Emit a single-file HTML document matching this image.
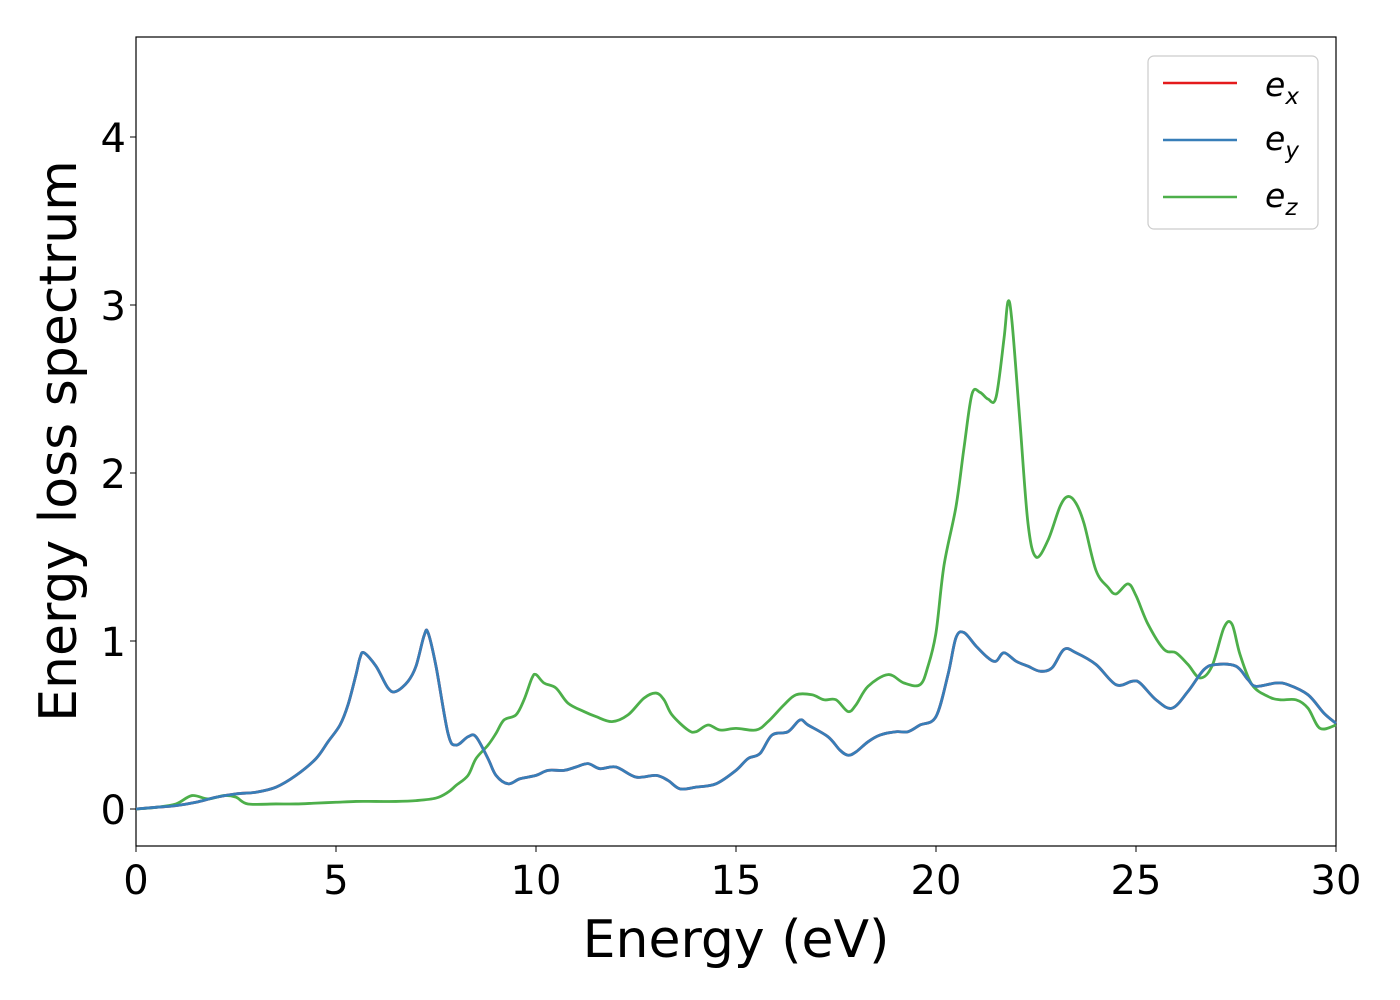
<!DOCTYPE html>
<html><head><meta charset="utf-8"><style>
body{margin:0;background:#fff;}
svg{display:block;font-family:"DejaVu Sans","Liberation Sans",sans-serif;}
</style></head><body>
<svg id="chart" width="1400" height="1000">
<rect x="136" y="37" width="1200" height="809" fill="#fff" stroke="#000" stroke-width="1.2"/>
<g id="ticks"></g>
<g id="series"></g>
<text x="736" y="957" font-size="52" text-anchor="middle">Energy (eV)</text>
<text transform="translate(76,441) rotate(-90)" font-size="52" text-anchor="middle">Energy loss spectrum</text>
<g>
<rect x="1148" y="56" width="170" height="173" rx="6" fill="#fff" stroke="#ccc" stroke-width="1.2"/>
<g><line x1="1163" y1="83" x2="1237" y2="83" stroke="#e41a1c" stroke-width="2.5"/><text x="1265" y="96" font-size="33" font-style="italic">e<tspan font-size="23" dy="8">x</tspan></text></g>
<g><line x1="1163" y1="140" x2="1237" y2="140" stroke="#377eb8" stroke-width="2.5"/><text x="1265" y="150" font-size="33" font-style="italic">e<tspan font-size="23" dy="8">y</tspan></text></g>
<g><line x1="1163" y1="197" x2="1237" y2="197" stroke="#4daf4a" stroke-width="2.5"/><text x="1265" y="207" font-size="33" font-style="italic">e<tspan font-size="23" dy="8">z</tspan></text></g>
</g>
</svg>
<script>
const xTicks=[0,5,10,15,20,25,30];
const yTicks=[0,1,2,3,4];
const inplaneE=[0,0.5,1,1.5,2,2.5,3,3.5,4,4.5,4.8,5.1,5.3,5.5,5.6,5.7,6,6.3,6.5,6.8,7,7.2,7.3,7.5,7.8,8,8.3,8.5,8.8,9,9.3,9.6,10,10.3,10.7,11,11.3,11.6,12,12.5,13,13.3,13.6,14,14.5,15,15.3,15.6,15.9,16.3,16.6,16.8,17.3,17.6,17.8,18,18.3,18.6,19,19.3,19.6,20,20.3,20.5,20.7,21,21.3,21.5,21.7,22,22.3,22.6,22.9,23.2,23.5,24,24.5,24.9,25.1,25.5,25.9,26.3,26.7,27,27.5,27.8,28,28.5,28.8,29.3,29.7,30];
const exVals=[0,0.01,0.02,0.04,0.07,0.09,0.1,0.13,0.2,0.3,0.4,0.5,0.62,0.8,0.9,0.93,0.85,0.72,0.7,0.76,0.85,1.03,1.05,0.85,0.45,0.38,0.43,0.43,0.3,0.2,0.15,0.18,0.2,0.23,0.23,0.25,0.27,0.24,0.25,0.19,0.2,0.17,0.12,0.13,0.15,0.23,0.3,0.33,0.44,0.46,0.53,0.5,0.43,0.35,0.32,0.34,0.4,0.44,0.46,0.46,0.5,0.55,0.8,1.02,1.05,0.97,0.9,0.88,0.93,0.88,0.85,0.82,0.84,0.95,0.93,0.86,0.74,0.76,0.75,0.65,0.6,0.7,0.83,0.86,0.85,0.77,0.73,0.75,0.74,0.68,0.57,0.51];
const eyVals=exVals.slice();
const ezE=[0,0.5,1,1.4,1.8,2.2,2.5,2.8,3.5,4,4.5,5,5.5,6,6.5,7,7.5,7.8,8,8.3,8.5,8.8,9,9.2,9.5,9.7,9.9,10,10.2,10.5,10.8,11.2,11.5,11.9,12.3,12.7,13,13.2,13.4,13.8,14,14.3,14.6,15,15.5,15.8,16.2,16.5,16.9,17.2,17.5,17.8,18,18.3,18.8,19.2,19.6,19.8,20,20.2,20.5,20.7,20.9,21.1,21.3,21.5,21.7,21.8,21.9,22.1,22.3,22.5,22.8,23.1,23.3,23.5,23.7,24,24.3,24.5,24.8,25,25.3,25.7,26,26.3,26.6,26.9,27.2,27.4,27.6,27.9,28.3,28.6,29,29.3,29.6,30];
const ezVals=[0,0.01,0.03,0.08,0.06,0.08,0.07,0.03,0.03,0.03,0.035,0.04,0.045,0.045,0.045,0.05,0.065,0.1,0.14,0.2,0.3,0.38,0.45,0.53,0.56,0.65,0.78,0.8,0.75,0.72,0.63,0.58,0.55,0.52,0.56,0.66,0.69,0.65,0.56,0.47,0.46,0.5,0.47,0.48,0.47,0.52,0.62,0.68,0.68,0.65,0.65,0.58,0.62,0.73,0.8,0.75,0.74,0.85,1.05,1.45,1.8,2.15,2.47,2.48,2.44,2.45,2.8,3.02,2.9,2.3,1.7,1.5,1.6,1.8,1.86,1.82,1.7,1.42,1.32,1.28,1.34,1.27,1.1,0.95,0.93,0.86,0.78,0.85,1.08,1.1,0.92,0.74,0.67,0.65,0.65,0.6,0.48,0.5];

const X=v=>136+v*40;
const Y=v=>809-v*168;
const NS="http://www.w3.org/2000/svg";
const tg=document.getElementById('ticks');
xTicks.forEach(t=>{
 const l=document.createElementNS(NS,'line');
 l.setAttribute('x1',X(t));l.setAttribute('x2',X(t));l.setAttribute('y1',846);l.setAttribute('y2',852);l.setAttribute('stroke','#000');
 
 
 tg.appendChild(l);
 const s=document.createElementNS(NS,'text');
 s.setAttribute('x',X(t));s.setAttribute('y',894);s.setAttribute('font-size','40');s.setAttribute('text-anchor','middle');
 s.textContent=t;
 
 
 tg.appendChild(s);
});
yTicks.forEach(t=>{
 const l=document.createElementNS(NS,'line');
 l.setAttribute('x1',130);l.setAttribute('x2',136);l.setAttribute('y1',Y(t));l.setAttribute('y2',Y(t));l.setAttribute('stroke','#000');
 
 
 tg.appendChild(l);
 const s=document.createElementNS(NS,'text');
 s.setAttribute('x',126);s.setAttribute('y',Y(t)+15);s.setAttribute('font-size','40');s.setAttribute('text-anchor','end');
 s.textContent=t;
 
 
 tg.appendChild(s);
});
function path(xs,ys){
 const p=xs.map((x,i)=>[X(x),Y(ys[i])]);
 let d='M'+p[0][0]+','+p[0][1];
 for(let i=0;i<p.length-1;i++){
  const p0=p[i-1]||p[i],p1=p[i],p2=p[i+1],p3=p[i+2]||p2;
  const c1=[p1[0]+(p2[0]-p0[0])/6,p1[1]+(p2[1]-p0[1])/6];
  const c2=[p2[0]-(p3[0]-p1[0])/6,p2[1]-(p3[1]-p1[1])/6];
  d+=`C${c1[0]},${c1[1]} ${c2[0]},${c2[1]} ${p2[0]},${p2[1]}`;
 }
 return d;
}
const sg=document.getElementById('series');
[['ex-line',inplaneE,exVals,'#e41a1c'],['ez-line',ezE,ezVals,'#4daf4a'],['ey-line',inplaneE,eyVals,'#377eb8']].forEach(s=>{
 const p=document.createElementNS(NS,'path');
 p.setAttribute('d',path(s[1],s[2]));p.setAttribute('fill','none');p.setAttribute('stroke',s[3]);p.setAttribute('stroke-width','2.8');
 
 
 sg.appendChild(p);
});
</script>
</body></html>
